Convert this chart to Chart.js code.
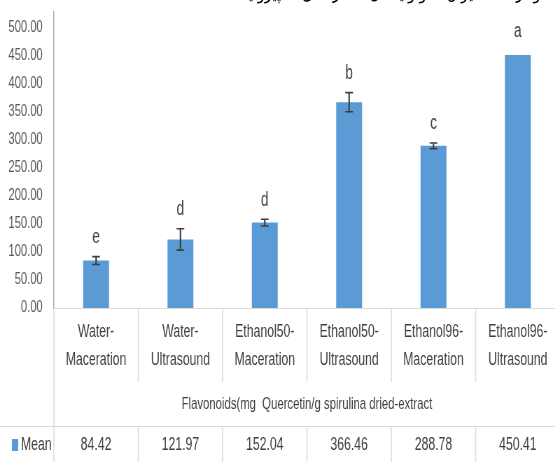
<!DOCTYPE html>
<html>
<head>
<meta charset="utf-8">
<script src="https://cdn.jsdelivr.net/npm/chart.js@4/dist/chart.umd.min.js"></script>
<style>
  html, body { margin: 0; padding: 0; background: #fff; overflow: hidden; width: 555px; height: 462px; }
  #wrap { position: relative; width: 555px; height: 462px; overflow: hidden; }
  #c { position: absolute; left: 0; top: 0; transform: scaleX(0.7); transform-origin: 0 0; }
  #cap { position: absolute; top: -18px; right: 2px; font: 18px 'DejaVu Sans', sans-serif; color: #000; direction: rtl; white-space: nowrap; transform: scaleX(0.8); transform-origin: 100% 0; }
</style>
</head>
<body>
<div id="wrap">
  <canvas id="c" width="800" height="462"></canvas>
  <div id="cap">نمودار ۳-۲- میزان فلاونوئید کل عصاره‌های اسپیرولینا</div>
</div>
<script>
const categories = [
  ['Water-', 'Maceration'],
  ['Water-', 'Ultrasound'],
  ['Ethanol50-', 'Maceration'],
  ['Ethanol50-', 'Ultrasound'],
  ['Ethanol96-', 'Maceration'],
  ['Ethanol96-', 'Ultrasound']
];
const meanValues = [84.42, 121.97, 152.04, 366.46, 288.78, 450.41];
const errorValues = [7, 19, 6, 17, 5, 0];
const groupLetters = ['e', 'd', 'd', 'b', 'c', 'a'];
const yTickValues = [0, 50, 100, 150, 200, 250, 300, 350, 400, 450, 500];
const seriesName = 'Mean';
const axisTitle = 'Flavonoids(mg  Quercetin/g spirulina dried-extract';

const FONT = "'Liberation Sans', Arial, sans-serif";
const BLUE = '#5b9bd5';
const TEXT = '#404040';
const LINE = '#d9d9d9';

const decorPlugin = {
  id: 'decor',
  afterDatasetsDraw(chart) {
    const ctx = chart.ctx;
    const x = chart.scales.x, y = chart.scales.y;
    ctx.save();
    ctx.strokeStyle = '#404040';
    meanValues.forEach((v, i) => {
      const px = x.getPixelForValue(i);
      const e = errorValues[i];
      let topY = y.getPixelForValue(v);
      if (e > 0) {
        const y1 = y.getPixelForValue(v + e), y2 = y.getPixelForValue(v - e);
        ctx.lineWidth = 2.2;
        ctx.beginPath();
        ctx.moveTo(px, y1); ctx.lineTo(px, y2);
        ctx.stroke();
        ctx.lineWidth = 1.6;
        ctx.beginPath();
        ctx.moveTo(px - 5.5, y1); ctx.lineTo(px + 5.5, y1);
        ctx.moveTo(px - 5.5, y2); ctx.lineTo(px + 5.5, y2);
        ctx.stroke();
        topY = y1;
      }
      ctx.fillStyle = TEXT;
      ctx.font = '19.5px ' + FONT;
      ctx.textAlign = 'center';
      ctx.textBaseline = 'middle';
      ctx.fillText(groupLetters[i], px, topY - (e > 0 ? 19 : 23));
    });
    ctx.restore();
  },
  afterDraw(chart) {
    const ctx = chart.ctx;
    const x = chart.scales.x;
    const area = chart.chartArea;
    const n = categories.length;
    const w = x.width / n;
    const left = x.left;
    const labelBottom = 382, rowTop = 426, bottom = 462;
    ctx.save();
    ctx.strokeStyle = LINE;
    ctx.lineWidth = 1.45;
    ctx.beginPath();
    ctx.moveTo(left, area.bottom); ctx.lineTo(left, bottom);
    for (let k = 1; k <= n; k++) {
      const xx = left + k * w;
      ctx.moveTo(xx, area.bottom); ctx.lineTo(xx, labelBottom);
      ctx.moveTo(xx, rowTop); ctx.lineTo(xx, bottom);
    }
    ctx.stroke();
    ctx.lineWidth = 1;
    ctx.beginPath();
    ctx.moveTo(0, rowTop + 0.5); ctx.lineTo(chart.width, rowTop + 0.5);
    ctx.stroke();
    const rowY = 445;
    ctx.fillStyle = BLUE;
    ctx.fillRect(17, rowY - 6, 9, 12);
    ctx.fillStyle = TEXT;
    ctx.font = '17.5px ' + FONT;
    ctx.textBaseline = 'middle';
    ctx.textAlign = 'left';
    ctx.fillText(seriesName, 30, rowY);
    ctx.textAlign = 'center';
    meanValues.forEach((v, i) => {
      ctx.fillText(v.toFixed(2), x.getPixelForValue(i), rowY);
    });
    ctx.restore();
  }
};

new Chart(document.getElementById('c'), {
  type: 'bar',
  data: {
    labels: categories,
    datasets: [{
      label: seriesName,
      data: meanValues,
      backgroundColor: BLUE,
      borderWidth: 0,
      barPercentage: 0.307,
      categoryPercentage: 1.0
    }]
  },
  options: {
    responsive: false,
    devicePixelRatio: 1,
    animation: false,
    layout: { padding: { left: 12, top: 12, right: 0, bottom: 0 } },
    plugins: { legend: { display: false }, tooltip: { enabled: false } },
    scales: {
      x: {
        grid: { display: false, drawTicks: false },
        border: { color: LINE, width: 1 },
        afterFit(scale) { scale.height = 154; },
        ticks: {
          color: TEXT,
          font: { family: FONT, size: 17.5, lineHeight: '28px' },
          padding: 10,
          maxRotation: 0,
          autoSkip: false
        },
        title: {
          display: true,
          text: axisTitle,
          color: TEXT,
          font: { family: FONT, size: 16.2, lineHeight: '18px' },
          padding: { top: 0, bottom: 48 }
        }
      },
      y: {
        min: 0,
        max: 527,
        grid: { display: false, drawTicks: false },
        border: { color: '#a6a6a6', width: 1.45 },
        afterFit(scale) { scale.width = 65; scale.paddingTop = 0; scale.paddingBottom = 0; },
        afterBuildTicks(scale) {
          scale.ticks = yTickValues.map(v => ({ value: v }));
        },
        ticks: {
          color: '#595959',
          font: { family: FONT, size: 16 },
          padding: 16,
          callback: v => Number(v).toFixed(2)
        }
      }
    }
  },
  plugins: [decorPlugin]
});
</script>
</body>
</html>
